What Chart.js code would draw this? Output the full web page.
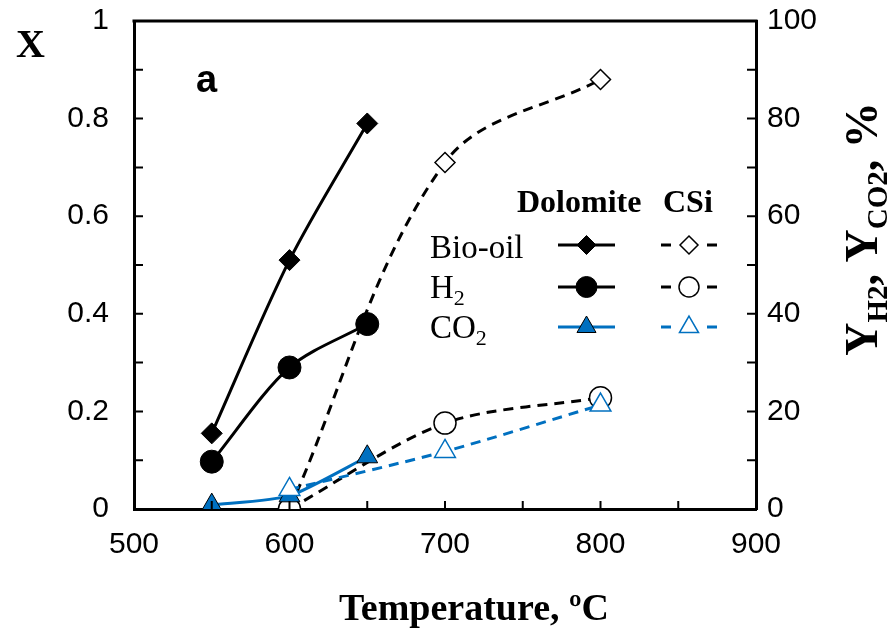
<!DOCTYPE html>
<html>
<head>
<meta charset="utf-8">
<script src="https://cdn.jsdelivr.net/npm/chart.js@4.4.1/dist/chart.umd.min.js"></script>
<style>
html, body { margin: 0; padding: 0; background: #fff; }
#wrap { width: 892px; height: 635px; }
</style>
</head>
<body>
<div id="wrap"><canvas id="chart" width="892" height="635"></canvas></div>
<script>
// Dolomite runs (550-650 C)
const dolomiteTemps = [550, 600, 650];
const dolomiteBioOil = [0.155, 0.51, 0.79];   // X, left axis
const dolomiteH2 = [9.7, 29, 37.9];          // Y, %, right axis
const dolomiteCO2 = [0.8, 2.7, 10.7];

// CSi runs (600-800 C)
const csiTemps = [600, 700, 800];
const csiBioOil = [0, 0.71, 0.88];
const csiH2 = [0, 17.6, 22.8];
const csiCO2 = [4.0, 11.8, 21.3];

const xTickLabels = [500, 600, 700, 800, 900];
const leftTickLabels = ['0', '0.2', '0.4', '0.6', '0.8', '1'];
const rightTickLabels = [0, 20, 40, 60, 80, 100];

const BLUE = '#0070C0';
const SANS = "'Liberation Sans', Arial, sans-serif";
const SERIF = "'Liberation Serif', 'Times New Roman', serif";

function pts(xs, ys) {
    return xs.map((x, i) => ({ x: x, y: ys[i] }));
}

function pickLabel(list, v) {
    const hit = list.find(l => Math.abs(parseFloat(l) - v) < 1e-6);
    return hit === undefined ? '' : String(hit);
}

function drawMarker(ctx, style, x, y, r, fill, stroke, lw) {
    ctx.beginPath();
    if (style === 'rectRot') {
        ctx.moveTo(x, y - r); ctx.lineTo(x + r, y); ctx.lineTo(x, y + r); ctx.lineTo(x - r, y);
        ctx.closePath();
    } else if (style === 'circle') {
        ctx.arc(x, y, r, 0, Math.PI * 2);
    } else {
        const a = 2 * Math.PI / 3;
        ctx.moveTo(x, y - r);
        ctx.lineTo(x + r * Math.sin(a), y - r * Math.cos(a));
        ctx.lineTo(x + r * Math.sin(2 * a), y - r * Math.cos(2 * a));
        ctx.closePath();
    }
    ctx.fillStyle = fill;
    ctx.fill();
    if (lw) {
        ctx.setLineDash([]);
        ctx.lineWidth = lw;
        ctx.strokeStyle = stroke;
        ctx.stroke();
    }
}

// draw text made of parts, some of them subscripts; returns width
function richText(ctx, parts, x, y, size, subSize, weight, measureOnly) {
    let cx = x;
    ctx.fillStyle = '#000';
    parts.forEach(p => {
        const s = p.sub ? subSize : size;
        ctx.font = weight + ' ' + s + 'px ' + SERIF;
        if (!measureOnly) ctx.fillText(p.t, cx, y + (p.sub ? s * 0.33 : 0));
        cx += ctx.measureText(p.t).width;
    });
    return cx - x;
}

const datasets = [
    {
        label: 'CSi CO2', data: pts(csiTemps, csiCO2), yAxisID: 'y1',
        borderColor: BLUE, borderWidth: 3, borderDash: [10, 7], tension: 0.3,
        pointStyle: 'triangle', pointRadius: 12, pointBackgroundColor: '#fff',
        pointBorderColor: BLUE, pointBorderWidth: 1.5
    },
    {
        label: 'Dolomite CO2', data: pts(dolomiteTemps, dolomiteCO2), yAxisID: 'y1',
        borderColor: BLUE, borderWidth: 3, tension: 0.2,
        pointStyle: 'triangle', pointRadius: 12, pointBackgroundColor: BLUE,
        pointBorderColor: '#000', pointBorderWidth: 1
    },
    {
        label: 'CSi H2', data: pts(csiTemps, csiH2), yAxisID: 'y1',
        borderColor: '#000', borderWidth: 3, borderDash: [10, 7], tension: 0.3,
        pointStyle: 'circle', pointRadius: 11, pointBackgroundColor: '#fff',
        pointBorderColor: '#000', pointBorderWidth: 1.5
    },
    {
        label: 'Dolomite H2', data: pts(dolomiteTemps, dolomiteH2), yAxisID: 'y1',
        borderColor: '#000', borderWidth: 3, tension: 0.3,
        pointStyle: 'circle', pointRadius: 11.5, pointBackgroundColor: '#000',
        pointBorderColor: '#000', pointBorderWidth: 1
    },
    {
        label: 'CSi Bio-oil', data: pts(csiTemps, csiBioOil), yAxisID: 'y',
        borderColor: '#000', borderWidth: 3, borderDash: [10, 7], tension: 0.35,
        pointStyle: 'rectRot', pointRadius: 10, pointBackgroundColor: '#fff',
        pointBorderColor: '#000', pointBorderWidth: 1.5
    },
    {
        label: 'Dolomite Bio-oil', data: pts(dolomiteTemps, dolomiteBioOil), yAxisID: 'y',
        borderColor: '#000', borderWidth: 3, tension: 0.3,
        pointStyle: 'rectRot', pointRadius: 10.5, pointBackgroundColor: '#000',
        pointBorderColor: '#000', pointBorderWidth: 1
    }
];

// inward ticks, frame top, titles and the hand-made legend
const decorPlugin = {
    id: 'decor',
    afterDraw(chart) {
        const ctx = chart.ctx;
        const area = chart.chartArea;
        const sx = chart.scales.x, sy = chart.scales.y, sy1 = chart.scales.y1;
        ctx.save();
        ctx.strokeStyle = '#000';

        // top frame line
        ctx.lineWidth = 3;
        ctx.beginPath();
        ctx.moveTo(area.left - 1.5, area.top);
        ctx.lineTo(area.right + 1.5, area.top);
        ctx.stroke();

        // inward tick marks
        ctx.lineWidth = 2;
        ctx.beginPath();
        sx.ticks.forEach(t => {
            if (t.value <= sx.min || t.value >= sx.max) return;
            const px = sx.getPixelForValue(t.value);
            ctx.moveTo(px, area.bottom); ctx.lineTo(px, area.bottom - 8);
        });
        sy.ticks.forEach(t => {
            if (t.value <= sy.min + 1e-6 || t.value >= sy.max - 1e-6) return;
            const py = sy.getPixelForValue(t.value);
            ctx.moveTo(area.left, py); ctx.lineTo(area.left + 9, py);
        });
        sy1.ticks.forEach(t => {
            if (t.value <= sy1.min || t.value >= sy1.max) return;
            const py = sy1.getPixelForValue(t.value);
            ctx.moveTo(area.right, py); ctx.lineTo(area.right - 9, py);
        });
        ctx.stroke();

        ctx.fillStyle = '#000';
        ctx.textBaseline = 'alphabetic';
        ctx.textAlign = 'left';

        // left axis letter and panel letter
        ctx.font = 'bold 40px ' + SERIF;
        ctx.fillText('X', 16, 57);
        ctx.font = 'bold 38px ' + SANS;
        ctx.fillText('a', 196, 92);

        // x axis title
        ctx.font = 'bold 38px ' + SERIF;
        ctx.textAlign = 'center';
        ctx.fillText('Temperature, \u00baC', 474, 620);
        ctx.textAlign = 'left';

        // right axis title, rotated
        const rParts = [
            { t: 'Y' }, { t: 'H2', sub: true }, { t: ', Y' }, { t: 'CO2', sub: true }, { t: ', %' }
        ];
        ctx.save();
        ctx.translate(877, 229);
        ctx.rotate(-Math.PI / 2);
        const w = richText(ctx, rParts, 0, 0, 46, 29, 'bold', true);
        richText(ctx, rParts, -w / 2, 0, 46, 29, 'bold', false);
        ctx.restore();

        // legend
        ctx.fillStyle = '#000';
        ctx.font = 'bold 32px ' + SERIF;
        ctx.fillText('Dolomite', 517, 212);
        ctx.fillText('CSi', 663, 212);

        const ds = chart.data.datasets;
        const byLabel = l => ds.find(d => d.label === l);
        const rows = [
            { parts: [{ t: 'Bio-oil' }], key: 'Bio-oil', y: 245, base: 258 },
            { parts: [{ t: 'H' }, { t: '2', sub: true }], key: 'H2', y: 287, base: 298 },
            { parts: [{ t: 'CO' }, { t: '2', sub: true }], key: 'CO2', y: 327, base: 338 }
        ];
        rows.forEach(r => {
            richText(ctx, r.parts, 430, r.base, 33, 22, 'normal', false);
            [['Dolomite ' + r.key, 558, 615], ['CSi ' + r.key, 661, 717]].forEach(([lab, x0, x1]) => {
                const d = byLabel(lab);
                const mx = (x0 + x1) / 2;
                ctx.setLineDash([]);
                ctx.strokeStyle = d.borderColor;
                ctx.lineWidth = 3;
                ctx.beginPath();
                if (d.borderDash) {
                    ctx.moveTo(x0, r.y); ctx.lineTo(x0 + 10, r.y);
                    ctx.moveTo(x1 - 10, r.y); ctx.lineTo(x1, r.y);
                } else {
                    ctx.moveTo(x0, r.y); ctx.lineTo(x1, r.y);
                }
                ctx.stroke();
                drawMarker(ctx, d.pointStyle, mx, r.y, d.pointRadius - 1,
                    d.pointBackgroundColor, d.pointBorderColor, d.pointBorderWidth);
            });
        });

        ctx.restore();
    }
};

const tickFont = { family: SANS, size: 30 };

// fixed axis box sizes so the plot area sits where the original one does
function fixVertical(width) {
    return s => {
        s.width = width;
        s.paddingTop = 0;
        s.paddingBottom = 0;
    };
}

new Chart(document.getElementById('chart').getContext('2d'), {
    type: 'line',
    data: { datasets: datasets },
    options: {
        responsive: false,
        animation: false,
        devicePixelRatio: 1,
        layout: { padding: { top: 21, left: 0, right: 0, bottom: 0 } },
        plugins: {
            legend: { display: false },
            tooltip: { enabled: false }
        },
        scales: {
            x: {
                type: 'linear',
                min: 500, max: 900,
                ticks: {
                    stepSize: 50,
                    autoSkip: false,
                    maxRotation: 0,
                    color: '#000',
                    font: tickFont,
                    padding: 18,
                    callback: v => pickLabel(xTickLabels, v)
                },
                grid: { display: false, drawTicks: false },
                border: { display: true, color: '#000', width: 3 },
                afterFit: s => { s.height = 126; }
            },
            y: {
                position: 'left',
                min: 0, max: 1,
                ticks: {
                    stepSize: 0.1,
                    autoSkip: false,
                    color: '#000',
                    font: tickFont,
                    padding: 25,
                    callback: v => pickLabel(leftTickLabels, v)
                },
                grid: { display: false, drawTicks: false },
                border: { display: true, color: '#000', width: 3 },
                afterFit: fixVertical(134)
            },
            y1: {
                position: 'right',
                min: 0, max: 100,
                ticks: {
                    stepSize: 10,
                    autoSkip: false,
                    color: '#000',
                    font: tickFont,
                    padding: 11,
                    callback: v => pickLabel(rightTickLabels, v)
                },
                grid: { display: false, drawTicks: false },
                border: { display: true, color: '#000', width: 3 },
                afterFit: fixVertical(136)
            }
        }
    },
    plugins: [decorPlugin]
});
</script>
</body>
</html>
